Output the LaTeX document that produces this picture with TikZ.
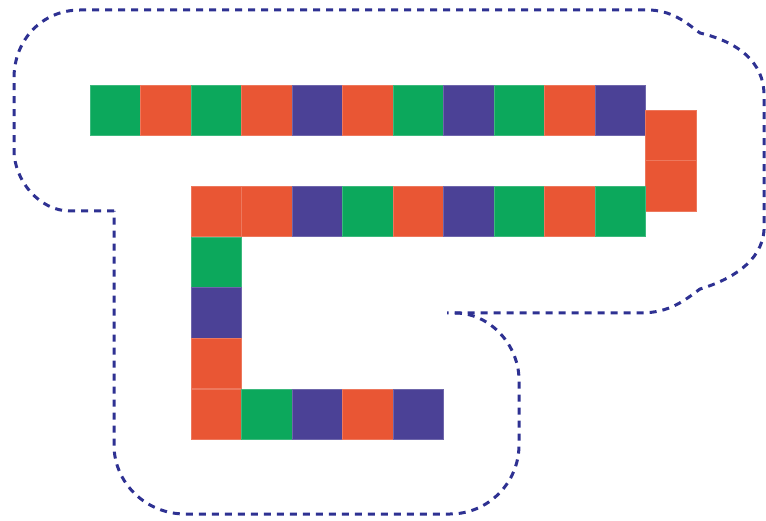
\documentclass[tikz,border=0pt]{standalone}
\usepackage{xcolor}
\usepackage{tikz}
\usetikzlibrary{positioning}

\definecolor{grn}{HTML}{0CA85C}
\definecolor{org}{HTML}{E95634}
\definecolor{pur}{HTML}{4B4196}
\definecolor{navy}{HTML}{2E3192}

\begin{document}
\begin{tikzpicture}[
    x=1pt, y=-1pt,
    tile/.style={rectangle, fill=#1, draw=#1!80!white, line width=0.5pt, minimum size=50.5pt, inner sep=0pt},
    outline/.style={draw=navy, line width=3pt, dash pattern=on 7pt off 6pt}
]
\useasboundingbox (0,0) rectangle (766,521);

% upper row
\foreach \c [count=\i from 0] in {grn,org,grn,org,pur,org,grn,pur,grn,org,pur}
    \node[tile=\c] (top\i) at ({90+50.5*(\i+0.5)}, 110.25) {};

% turn on the right
\node[tile=org] (turnA) at (670.75, 135.5) {};
\node[tile=org] (turnB) at (670.75, 186) {};

% middle row
\foreach \c [count=\i from 0] in {org,org,pur,grn,org,pur,grn,org,grn}
    \node[tile=\c] (mid\i) at ({191+50.5*(\i+0.5)}, 211.5) {};

% left column
\foreach \c [count=\i from 0] in {grn,pur,org}
    \node[tile=\c] (col\i) at (216.25, {237+50.5*(\i+0.5)}) {};

% lower row
\foreach \c [count=\i from 0] in {org,grn,pur,org,pur}
    \node[tile=\c] (low\i) at ({191+50.5*(\i+0.5)}, 414) {};

% dashed border
\draw[outline] (114,211) -- (70,211) .. controls (39,211) and (14,180) .. (14,150)
    -- (14,78) .. controls (14,40) and (42,10) .. (80,10) -- (650,10)
    .. controls (675,11) and (690,26) .. (700,33)
    .. controls (738,42) and (764,62) .. (764,95) -- (764,230)
    .. controls (762,262) and (730,280) .. (700,289)
    .. controls (685,300) and (670,313) .. (640,313) -- (447,313);
\draw[outline] (455,313) .. controls (490,313) and (519,345) .. (519,380)
    -- (519,445) .. controls (519,483) and (488,514) .. (450,514) -- (185,514)
    .. controls (146,514) and (114,483) .. (114,445) -- (114,211);

\end{tikzpicture}
\end{document}
